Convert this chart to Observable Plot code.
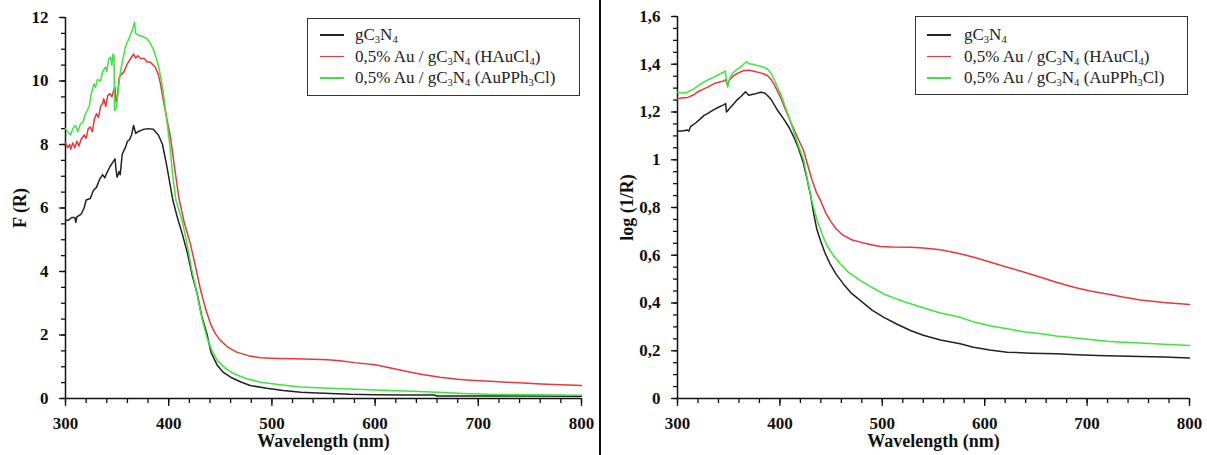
<!DOCTYPE html>
<html>
<head>
<meta charset="utf-8">
<script src="https://cdn.jsdelivr.net/npm/d3@7"></script>
<script src="https://cdn.jsdelivr.net/npm/@observablehq/plot@0.6"></script>
<style>
  body { margin: 0; background: #fff; }
  #wrap { position: relative; width: 1207px; height: 455px; overflow: hidden; background: #fff; font-family: "Liberation Serif", "Times New Roman", serif; }
  .panel { position: absolute; top: 0; }
  .panel, .panel text { font-family: "Liberation Serif", "Times New Roman", serif !important; font-weight: bold; }
  .divider { position: absolute; left: 599px; top: 0; width: 2px; height: 455px; background: #111; z-index: 5; }
  .legend { position: absolute; box-sizing: border-box; border: 1.5px solid #333; background: #fff; z-index: 4; font-size: 17px; color: #222; }
  .row { position: absolute; height: 22px; line-height: 22px; left: 0; right: 0; white-space: nowrap; }
  .sw { position: absolute; height: 1.6px; width: 24px; top: 10px; }
  .lt { position: absolute; }
  .lt sub { font-size: 62%; vertical-align: -0.25em; line-height: 0; }
</style>
</head>
<body>
<div id="wrap"></div>
<script>
// ---------- data ----------
const seriesNames = ["gC3N4", "0,5% Au / gC3N4 (HAuCl4)", "0,5% Au / gC3N4 (AuPPh3Cl)"];
const seriesColors = ["#222222", "#e8383c", "#3ce63c"];
const xMajorTicks = [300, 400, 500, 600, 700, 800];
const leftYTicks = [0, 2, 4, 6, 8, 10, 12];
const rightYTicks = [0, 0.2, 0.4, 0.6, 0.8, 1, 1.2, 1.4, 1.6];

// Left panel: F(R)
const fr_gC3N4 = [[300,5.6],[303,5.62],[306,5.7],[309,5.7],[310,5.55],[311,5.72],[315,5.8],[318,6.0],[320,6.25],[324,6.3],[327,6.55],[330,6.65],[333,6.9],[336,7.05],[338,6.95],[340,7.1],[343,7.3],[345,7.4],[347,7.5],[348,7.55],[349,7.2],[350,6.97],[352,7.15],[353,7.05],[355,7.7],[358,7.9],[360,8.1],[362,8.15],[364,8.3],[366,8.6],[368,8.35],[370,8.4],[375,8.47],[380,8.5],[385,8.48],[390,8.3],[394,8.0],[398,7.35],[401,6.8],[404,6.25],[408,5.75],[413,5.2],[418,4.6],[423,3.85],[427.6,3.3],[432,2.6],[437,2.04],[441,1.45],[447,1.05],[453,0.82],[460,0.67],[470,0.52],[479,0.41],[495,0.32],[511,0.25],[528,0.2],[544,0.17],[576,0.13],[600,0.12],[630,0.11],[657,0.11],[660,0.08],[700,0.08],[750,0.08],[800,0.07]];
const fr_HAuCl4 = [[300,8.05],[302,7.9],[304,8.0],[305,7.85],[307,8.05],[309,7.9],[311,8.1],[313,7.95],[315,8.15],[318,8.3],[320,8.2],[322,8.5],[324,8.55],[326,8.4],[328,8.8],[330,8.97],[332,8.85],[334,9.2],[336,9.3],[337,9.44],[339,9.2],[341,9.55],[343,9.6],[345,9.5],[347,9.75],[348,9.8],[349,9.34],[350,9.4],[352,10.12],[354,10.2],[356.5,10.28],[360,10.55],[363,10.7],[366,10.85],[368,10.72],[370,10.8],[373,10.7],[376,10.72],[379,10.6],[382,10.6],[385,10.5],[387,10.44],[390,10.2],[392,9.91],[397,9.0],[401.7,8.23],[406,7.2],[410,6.3],[415,5.55],[421,4.87],[425,4.3],[431,3.4],[436,2.8],[440.5,2.35],[445,2.05],[450,1.83],[458,1.6],[466,1.46],[477,1.35],[489,1.28],[505,1.26],[521,1.25],[540,1.24],[554,1.22],[566,1.19],[580,1.13],[600,1.06],[615,0.96],[631,0.85],[647,0.75],[663,0.67],[680,0.61],[696,0.57],[712,0.54],[728,0.51],[744,0.49],[760,0.46],[780,0.43],[800,0.41]];
const fr_AuPPh3Cl = [[300,8.5],[302,8.4],[305,8.3],[307,8.5],[309.7,8.6],[312,8.4],[314.5,8.65],[317,8.7],[319,8.95],[321,9.07],[323,9.2],[325,9.6],[327.5,9.91],[329,9.8],[331,10.05],[334,10.0],[336,10.3],[338.8,10.44],[340,10.3],[342,10.7],[343.6,10.75],[345,10.5],[346,10.85],[347,10.8],[347.5,9.07],[349.4,9.17],[351,9.7],[353,10.22],[355,10.6],[358,11.07],[361,11.3],[364.6,11.59],[366.9,11.85],[368,11.5],[371,11.43],[375,11.4],[379,11.33],[382,11.2],[385.6,10.96],[390.4,10.44],[394,9.8],[397,9.07],[401,8.0],[404,7.0],[407,6.24],[413,5.6],[417.8,4.87],[422,4.1],[427.5,3.3],[432,2.55],[437,1.93],[442,1.5],[447,1.2],[455,0.95],[463,0.78],[475,0.63],[489,0.51],[508,0.43],[528,0.36],[550,0.33],[576,0.3],[600,0.27],[630,0.24],[660,0.2],[685,0.16],[710,0.13],[750,0.12],[800,0.1]];

// Right panel: log(1/R)
const lr_gC3N4 = [[300,1.12],[305,1.12],[309.5,1.125],[311,1.12],[313,1.14],[318,1.155],[322,1.17],[325.7,1.185],[330,1.195],[335.5,1.21],[340,1.22],[345,1.23],[347,1.235],[347.8,1.2],[350,1.21],[351.8,1.22],[355,1.235],[358,1.25],[362,1.265],[366.4,1.285],[369.6,1.27],[375,1.275],[381,1.283],[385,1.28],[387.6,1.27],[391,1.255],[394,1.234],[398,1.205],[403.8,1.17],[409,1.135],[413.6,1.095],[418,1.05],[423,0.985],[427,0.91],[430,0.85],[433,0.774],[436,0.71],[439.6,0.662],[444,0.61],[449,0.564],[455,0.52],[462,0.48],[470,0.44],[478.7,0.41],[490,0.37],[501.5,0.34],[515,0.31],[527.5,0.285],[540,0.265],[556.8,0.245],[576,0.229],[589,0.215],[605,0.203],[622,0.194],[645,0.19],[670,0.187],[690,0.183],[710,0.18],[730,0.178],[752,0.176],[775,0.174],[800,0.17]];
const lr_HAuCl4 = [[300,1.255],[305,1.26],[309.5,1.26],[315,1.27],[320,1.285],[325.7,1.297],[330,1.305],[335.5,1.318],[340,1.325],[345,1.33],[347,1.335],[348.5,1.315],[351,1.335],[355,1.353],[360,1.365],[364.7,1.374],[370,1.375],[374.5,1.371],[380,1.365],[384,1.36],[388,1.352],[390.8,1.34],[395,1.31],[400.6,1.262],[405,1.215],[410,1.164],[416,1.105],[423,1.04],[427,0.98],[431.5,0.913],[436,0.86],[439.6,0.83],[444.5,0.78],[449,0.746],[455,0.71],[462,0.683],[470,0.665],[478.7,0.655],[488,0.645],[498,0.637],[510,0.635],[527.5,0.634],[540,0.63],[556.8,0.623],[576,0.606],[589.4,0.592],[605,0.572],[622,0.55],[638,0.53],[654.5,0.508],[670,0.487],[687,0.466],[703,0.45],[719.6,0.438],[735,0.425],[752,0.413],[775,0.402],[800,0.394]];
const lr_AuPPh3Cl = [[300,1.283],[305,1.28],[309.5,1.283],[316,1.297],[320,1.31],[325.7,1.325],[330,1.335],[335.5,1.346],[340,1.356],[345,1.367],[346.6,1.372],[348,1.33],[349,1.304],[351,1.34],[353.4,1.36],[357,1.375],[361.5,1.388],[365,1.402],[367.4,1.41],[370,1.402],[374,1.4],[377.8,1.395],[383,1.39],[387.6,1.38],[390,1.37],[392.5,1.353],[396,1.32],[400.6,1.276],[405,1.225],[410,1.164],[416,1.085],[423.3,0.997],[427,0.913],[431,0.83],[436.4,0.746],[441,0.69],[446,0.64],[452,0.6],[459,0.564],[468,0.525],[478.7,0.494],[490,0.465],[501.5,0.438],[515,0.415],[527.5,0.397],[540,0.38],[556.8,0.358],[576,0.34],[589.4,0.32],[605,0.305],[622,0.292],[638,0.28],[654.5,0.271],[670,0.262],[687,0.254],[703,0.247],[719.6,0.24],[735,0.236],[752,0.232],[775,0.227],[800,0.222]];

// ---------- drawing ----------
const commaFmt = d => String(+d.toFixed(2)).replace(".", ",");
const serif = "'Liberation Serif', 'Times New Roman', serif";

function panel(o) {
  const xMinor = d3.range(0, 26).map(i => 300 + i * 20);
  const lineMarks = o.series.map((s, i) =>
    Plot.line(s, {x: d => d[0], y: d => d[1], stroke: seriesColors[i], strokeWidth: 1.5}));
  return Plot.plot({
    width: o.width, height: 455,
    marginLeft: o.ml, marginRight: o.mr, marginTop: o.mt, marginBottom: 57,
    x: {domain: [300, 800]},
    y: {domain: o.ydomain},
    style: {fontFamily: serif, fontSize: "17px", fontWeight: "bold", color: "#111", background: "transparent"},
    marks: [
      Plot.axisX({ticks: xMinor, tickSize: 5, tickFormat: () => "", label: null, strokeWidth: 1.3}),
      Plot.axisX({ticks: xMajorTicks, tickSize: 8, tickPadding: 10, label: null, strokeWidth: 1.3, tickFormat: d => String(d), fontFamily: serif, fontWeight: "bold"}),
      Plot.axisY({ticks: o.yminor, tickSize: 4, tickFormat: () => "", label: null, strokeWidth: 1.3}),
      Plot.axisY({ticks: o.ymajor, tickSize: 6, tickPadding: 11, label: null, strokeWidth: 1.3, tickFormat: o.yfmt, fontFamily: serif, fontWeight: "bold"}),
      Plot.ruleX([300], {stroke: "#111", strokeWidth: 1.5}),
      Plot.ruleY([0], {stroke: "#111", strokeWidth: 1.5}),
      ...lineMarks,
      Plot.text([o.ylabel], {frameAnchor: "left", textAnchor: "middle", lineAnchor: "middle", rotate: -90, dx: o.ylabelDx, fontSize: 18, fontWeight: "bold", fontFamily: serif, fill: "#111"}),
      Plot.text(["Wavelength (nm)"], {frameAnchor: "bottom", textAnchor: "middle", lineAnchor: "middle", dy: 43, fontSize: 18, fontWeight: "bold", fontFamily: serif, fill: "#111"})
    ]
  });
}

const wrap = document.getElementById("wrap");

const left = panel({
  width: 600, ml: 65, mr: 19, mt: 17,
  ydomain: [0, 12], ymajor: leftYTicks, yminor: d3.range(0, 25).map(i => i * 0.5),
  yfmt: d => String(d), ylabel: "F (R)", ylabelDx: -45,
  series: [fr_gC3N4, fr_HAuCl4, fr_AuPPh3Cl]
});
left.classList.add("panel");
left.style.left = "0px";
wrap.appendChild(left);

const right = panel({
  width: 607, ml: 77, mr: 18, mt: 16,
  ydomain: [0, 1.6], ymajor: rightYTicks, yminor: d3.range(0, 33).map(i => +(i * 0.05).toFixed(2)),
  yfmt: commaFmt, ylabel: "log (1/R)", ylabelDx: -50,
  series: [lr_gC3N4, lr_HAuCl4, lr_AuPPh3Cl]
});
right.classList.add("panel");
right.style.left = "600px";
wrap.appendChild(right);

const div = document.createElement("div");
div.className = "divider";
wrap.appendChild(div);

// legends
const legendHTML = [
  "gC<sub>3</sub>N<sub>4</sub>",
  "0,5% Au / gC<sub>3</sub>N<sub>4</sub> (HAuCl<sub>4</sub>)",
  "0,5% Au / gC<sub>3</sub>N<sub>4</sub> (AuPPh<sub>3</sub>Cl)"
];
function legend(o) {
  const box = document.createElement("div");
  box.className = "legend";
  Object.assign(box.style, {left: o.x + "px", top: o.y + "px", width: o.w + "px", height: o.h + "px"});
  seriesNames.forEach((name, i) => {
    const row = document.createElement("div");
    row.className = "row";
    row.style.top = (o.rowTop + i * 21.5) + "px";
    const sw = document.createElement("span");
    sw.className = "sw";
    Object.assign(sw.style, {left: o.swL + "px", background: seriesColors[i]});
    const t = document.createElement("span");
    t.className = "lt";
    t.style.left = o.txtL + "px";
    t.innerHTML = legendHTML[i];
    t.title = name;
    row.appendChild(sw); row.appendChild(t);
    box.appendChild(row);
  });
  wrap.appendChild(box);
}
legend({x: 307, y: 18, w: 273, h: 78, rowTop: 5, swL: 12, txtL: 47});
legend({x: 915, y: 16, w: 273, h: 79, rowTop: 7, swL: 11, txtL: 48});
</script>
</body>
</html>
